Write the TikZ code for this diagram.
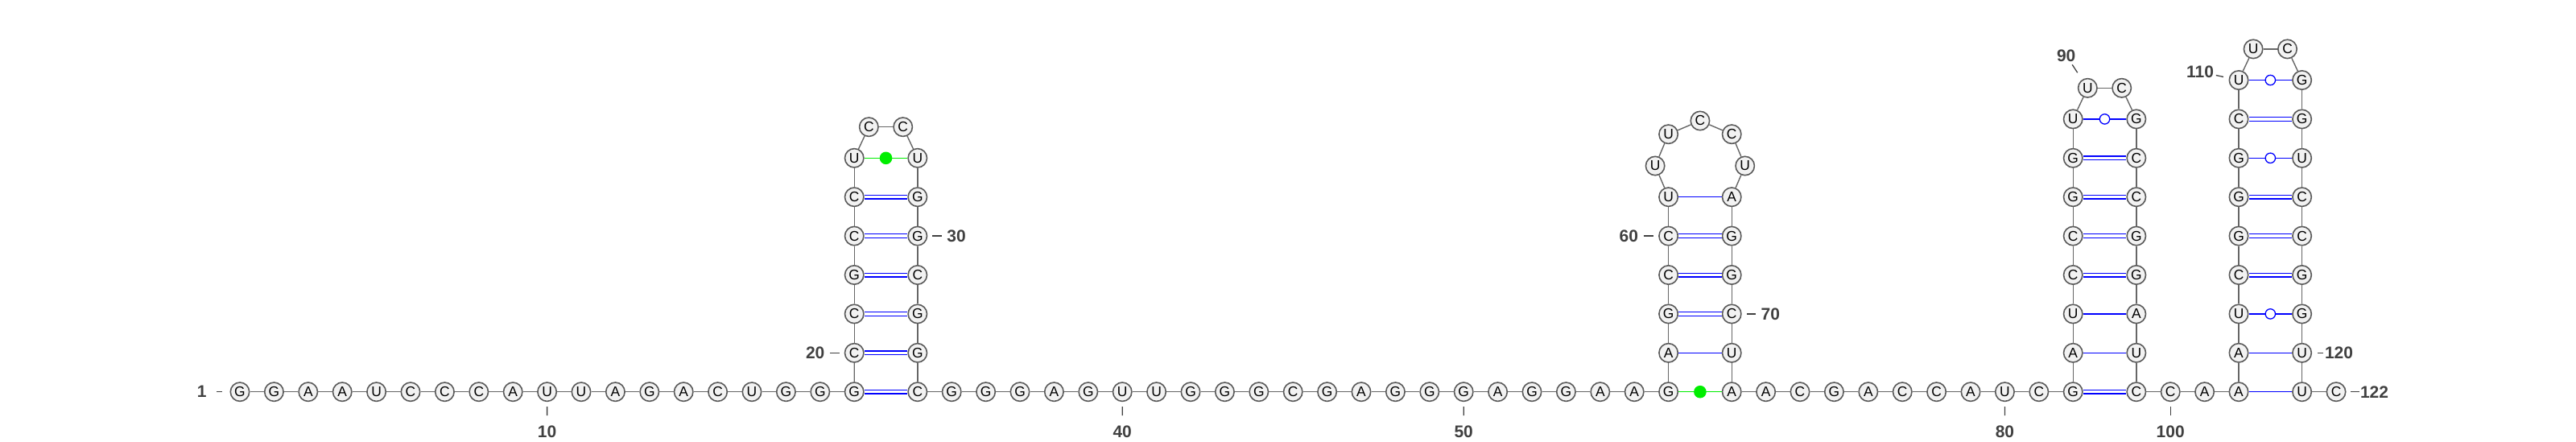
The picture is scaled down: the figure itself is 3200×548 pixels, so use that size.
\documentclass[tikz,border=0pt]{standalone}
\usepackage{fontspec}
\setmainfont{Liberation Sans}

\definecolor{ntfill}{HTML}{F2F2F2}
\definecolor{ntline}{HTML}{5A5A5A}
\definecolor{bbline}{HTML}{666666}
\definecolor{numcol}{HTML}{404040}
\definecolor{bpblue}{HTML}{0000FF}
\definecolor{ncgreen}{HTML}{00EE00}

\tikzset{every picture/.style={line width=0.7pt}}
\tikzset{
  nt/.style={circle, draw=ntline, fill=ntfill, line width=0.8pt, minimum size=11.7pt, inner sep=0pt, font=\fontsize{8.7}{9}\selectfont},
  bb/.style={draw=bbline, line width=0.7pt},
  wc/.style={draw=bpblue, double=white, double distance=1.7pt, line width=0.65pt},
  au/.style={draw=bpblue, line width=0.65pt},
  gu/.style={circle, draw=bpblue, fill=white, line width=0.65pt, minimum size=6.2pt, inner sep=0pt},
  ncl/.style={draw=ncgreen, line width=0.65pt},
  ncdot/.style={circle, fill=ncgreen, minimum size=7.8pt, inner sep=0pt},
  num/.style={text=numcol, inner sep=0pt, font=\fontsize{10.5}{12}\selectfont\bfseries},
  tick/.style={draw=numcol, line width=0.65pt},
  tickb/.style={tick, shorten <=5.9pt, shorten >=3pt},
  ticks/.style={tick, shorten <=2.9pt, shorten >=3pt},
}

\begin{document}
\begin{tikzpicture}[x=0.5pt,y=0.5pt,yscale=-1,xscale=1]
\useasboundingbox (0,0) rectangle (3200,548);

%5' tail
\foreach \i/\b in {1/G,2/G,3/A,4/A,5/U,6/C,7/C,8/C,9/A,10/U,11/U,12/A,13/G,14/A,15/C,16/U,17/G,18/G,19/G}
  \node[nt] (n\i) at ({298+(\i-1)*42.4},486.7) {\b};
%Stem 1
\foreach \i/\b in {20/C,21/C,22/G,23/C,24/C,25/U}
  \node[nt] (n\i) at (1061.2,{486.7-(\i-19)*48.4}) {\b};
\node[nt] (n26) at (1079.3,157.7) {C};
\node[nt] (n27) at (1121.7,157.7) {C};
\foreach \i/\b in {28/U,29/G,30/G,31/C,32/G,33/G,34/C}
  \node[nt] (n\i) at (1139.8,{486.7-(34-\i)*48.4}) {\b};
%Linker 35-55
\foreach \i/\b in {35/G,36/G,37/G,38/A,39/G,40/U,41/U,42/G,43/G,44/G,45/C,46/G,47/A,48/G,49/G,50/G,51/A,52/G,53/G,54/A,55/A}
  \node[nt] (n\i) at ({1139.8+(\i-34)*42.4},486.7) {\b};
%Stem 2
\foreach \i/\b in {56/G,57/A,58/G,59/C,60/C,61/U}
  \node[nt] (n\i) at (2072.6,{486.7-(\i-56)*48.4}) {\b};
\node[nt] (n62) at (2056.1,206) {U};
\node[nt] (n63) at (2072.6,166.7) {U};
\node[nt] (n64) at (2111.9,150) {C};
\node[nt] (n65) at (2151.2,166.7) {C};
\node[nt] (n66) at (2167.7,206) {U};
\foreach \i/\b in {67/A,68/G,69/G,70/C,71/U,72/A}
  \node[nt] (n\i) at (2151.2,{486.7-(72-\i)*48.4}) {\b};
%Linker 73-81
\foreach \i/\b in {73/A,74/C,75/G,76/A,77/C,78/C,79/A,80/U,81/C}
  \node[nt] (n\i) at ({2151.2+(\i-72)*42.4},486.7) {\b};
%Stem 3
\foreach \i/\b in {82/G,83/A,84/U,85/C,86/C,87/G,88/G,89/U}
  \node[nt] (n\i) at (2575.2,{486.7-(\i-82)*48.4}) {\b};
\node[nt] (n90) at (2593.3,109.3) {U};
\node[nt] (n91) at (2635.7,109.3) {C};
\foreach \i/\b in {92/G,93/C,94/C,95/G,96/G,97/A,98/U,99/C}
  \node[nt] (n\i) at (2653.8,{486.7-(99-\i)*48.4}) {\b};
\node[nt] (n100) at (2696.2,486.7) {C};
\node[nt] (n101) at (2738.6,486.7) {A};
%Stem 4
\foreach \i/\b in {102/A,103/A,104/U,105/C,106/G,107/G,108/G,109/C,110/U}
  \node[nt] (n\i) at (2781.0,{486.7-(\i-102)*48.4}) {\b};
\node[nt] (n111) at (2799.1,60.9) {U};
\node[nt] (n112) at (2841.5,60.9) {C};
\foreach \i/\b in {113/G,114/G,115/U,116/C,117/C,118/G,119/G,120/U,121/U}
  \node[nt] (n\i) at (2859.6,{486.7-(121-\i)*48.4}) {\b};
\node[nt] (n122) at (2902.0,486.7) {C};

%Backbone
\foreach \i in {1,...,121}{
  \pgfmathtruncatemacro\j{\i+1}
  \draw[bb] (n\i) -- (n\j);
}

%Base pairs
\foreach \a/\b in {19/34,20/33,21/32,22/31,23/30,24/29,58/70,59/69,60/68,82/99,85/96,86/95,87/94,88/93,105/118,106/117,107/116,109/114}
  \draw[wc] (n\a) -- (n\b);
\foreach \a/\b in {57/71,61/67,83/98,84/97,102/121,103/120}
  \draw[au] (n\a) -- (n\b);
\foreach \a/\b in {89/92,104/119,108/115,110/113}
  \draw[au] (n\a) -- node[gu] (w\a) {} (n\b);
\foreach \a/\b in {25/28,56/72}
  \draw[ncl] (n\a) -- node[ncdot] (d\a) {} (n\b);

% Numbering
\node[num] (l1) at (250.7,486.7) {1};
\draw[tick, shorten <=5.9pt, shorten >=5pt] (l1) -- (n1);
\node[num] (l10) at (679.6,536) {10};
\draw[tickb] (l10) -- (n10);
\node[num] (l20) at (1012.7,438.3) {20};
\draw[ticks] (l20) -- (n20);
\node[num] (l30) at (1188,293.1) {30};
\draw[ticks] (l30) -- (n30);
\node[num] (l40) at (1394.2,536) {40};
\draw[tickb] (l40) -- (n40);
\node[num] (l50) at (1818.2,536) {50};
\draw[tickb] (l50) -- (n50);
\node[num] (l60) at (2023.3,293.1) {60};
\draw[ticks] (l60) -- (n60);
\node[num] (l70) at (2199.3,389.9) {70};
\draw[ticks] (l70) -- (n70);
\node[num] (l80) at (2490.4,536) {80};
\draw[tickb] (l80) -- (n80);
\node[num] (l90) at (2566.7,69) {90};
\draw[tick, shorten <=1.9pt, shorten >=5.2pt] (l90) -- (n90);
\node[num] (l100) at (2696.2,536) {100};
\draw[tickb] (l100) -- (n100);
\node[num] (l110) at (2733,89.3) {110};
\draw[tick, shorten <=1.1pt, shorten >=3.5pt] (l110) -- (n110);
\node[num] (l120) at (2905.5,438.3) {120};
\draw[tick, shorten <=0.7pt, shorten >=3.2pt] (l120) -- (n120);
\node[num] (l122) at (2949.5,486.7) {122};
\draw[tick, shorten <=0.3pt, shorten >=2.7pt] (l122) -- (n122);

\end{tikzpicture}
\end{document}
